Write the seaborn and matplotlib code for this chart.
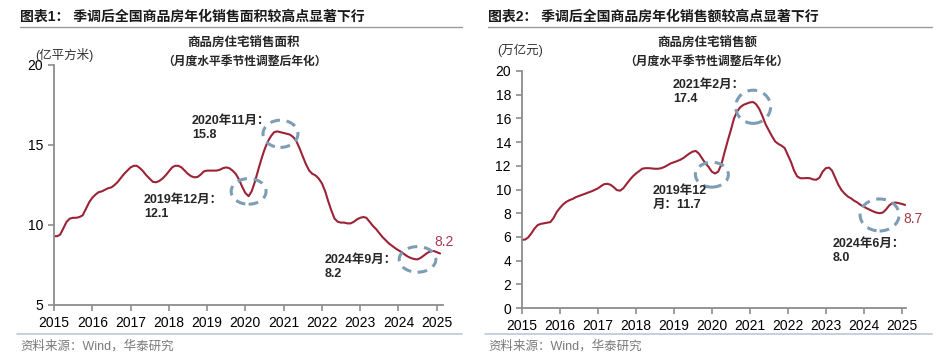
import numpy as np
import pandas as pd
import matplotlib
matplotlib.use("Agg")
import matplotlib.pyplot as plt
import matplotlib.dates as mdates
from matplotlib.patches import Ellipse
import seaborn as sns

# monthly values, seasonally adjusted & annualised, 2015-01 .. 2025-02
start = "2015-01-01"
area = [
    9.3, 9.3, 9.4, 9.8, 10.2, 10.4, 10.45, 10.45, 10.5, 10.6, 11.0, 11.4,
    11.7, 11.9, 12.05, 12.1, 12.2, 12.3, 12.35, 12.5, 12.7, 12.95, 13.2, 13.4,
    13.6, 13.7, 13.7, 13.55, 13.35, 13.1, 12.9, 12.7, 12.67, 12.75, 12.9, 13.1,
    13.35, 13.6, 13.7, 13.7, 13.6, 13.4, 13.2, 13.05, 12.98, 13.0, 13.15, 13.35,
    13.4, 13.4, 13.4, 13.4, 13.45, 13.55, 13.6, 13.55, 13.4, 13.2, 12.85, 12.4,
    12.0, 11.8, 12.1, 12.7, 13.4, 14.1, 14.7, 15.2, 15.55, 15.8, 15.85, 15.8,
    15.75, 15.7, 15.65, 15.5, 15.25, 14.8, 14.3, 13.8, 13.4, 13.2, 13.1, 12.9,
    12.6, 12.1, 11.5, 10.9, 10.4, 10.2, 10.15, 10.15, 10.1, 10.1, 10.2, 10.35,
    10.45, 10.5, 10.45, 10.2, 9.95, 9.75, 9.5, 9.25, 9.05, 8.85, 8.7, 8.55,
    8.42, 8.3, 8.15, 8.02, 7.93, 7.87, 7.85, 7.95, 8.1, 8.25, 8.35, 8.38,
    8.3, 8.22,
]
sales = [
    5.75, 5.78, 5.95, 6.3, 6.7, 7.0, 7.1, 7.15, 7.2, 7.25, 7.6, 8.1,
    8.45, 8.75, 8.95, 9.1, 9.2, 9.35, 9.45, 9.55, 9.65, 9.75, 9.85, 9.97,
    10.1, 10.3, 10.45, 10.48, 10.4, 10.2, 9.95, 9.9, 10.1, 10.45, 10.8, 11.1,
    11.35, 11.55, 11.75, 11.8, 11.8, 11.78, 11.75, 11.75, 11.8, 11.9, 12.05, 12.2,
    12.3, 12.4, 12.5, 12.65, 12.85, 13.05, 13.2, 13.25, 13.0, 12.6, 12.2, 11.9,
    11.5, 11.35, 11.5, 12.1, 13.1, 14.1, 15.0, 16.0, 16.6, 16.95, 17.15, 17.25,
    17.35, 17.38, 17.2, 16.8, 16.2, 15.5, 15.0, 14.5, 14.05, 13.85, 13.7, 13.5,
    12.9, 12.3, 11.6, 11.1, 10.95, 10.95, 10.97, 10.95, 10.85, 10.82, 11.0, 11.5,
    11.8, 11.85, 11.6, 11.0, 10.4, 9.95, 9.65, 9.4, 9.25, 9.05, 8.9, 8.7,
    8.55, 8.4, 8.28, 8.15, 8.05, 8.0, 8.05, 8.3, 8.65, 8.85, 8.9, 8.85,
    8.78, 8.7,
]
years = [str(y) for y in range(2015, 2026)]

# circled months: (month, width in days, height in units, vertical nudge)
circles_area = [("2020-02-01", 333, 1.6, 0.3), ("2020-12-01", 333, 1.7, -0.1),
                ("2024-07-01", 350, 1.6, 0.0)]
circles_sales = [("2020-01-01", 317, 2.1, -0.25), ("2021-02-01", 336, 2.8, -0.4),
                 ("2024-06-01", 375, 2.7, -0.15)]

sns.set_style("ticks")
plt.rcParams['font.family'] = ['Liberation Sans', 'Noto Sans CJK SC']
CJK = ['Liberation Sans', 'Noto Sans CJK SC']

W, H = 947, 361
LINE = '#9B2335'
RING = '#7C9DB5'
SPINE = '#8c8c8c'

fig = plt.figure(figsize=(W / 100, H / 100), dpi=100)


def px(x, y):
    return x / W, 1 - y / H


def make_panel(rect, values, ylim, yticks, xend, circles):
    ax = fig.add_axes(rect)
    df = pd.DataFrame({"month": pd.date_range(start, periods=len(values), freq="MS"),
                       "value": values})
    sns.lineplot(data=df, x="month", y="value", ax=ax, color=LINE, lw=1.5)
    ax.set_xlim(pd.Timestamp(start), pd.Timestamp(xend))
    ax.set_ylim(*ylim)
    ax.set_yticks(yticks)
    ax.set_xticks([pd.Timestamp(y + "-01-01") for y in years])
    ax.set_xticklabels(years)
    ax.set_xlabel("")
    ax.set_ylabel("")
    for s in ["top", "right"]:
        ax.spines[s].set_visible(False)
    for s in ["left", "bottom"]:
        ax.spines[s].set_color(SPINE)
        ax.spines[s].set_linewidth(1.3)
    ax.tick_params(axis="both", colors=SPINE, labelcolor="black", labelsize=10,
                   length=4, width=1.2, pad=4)
    s = df.set_index("month")["value"]
    for d, w, h, dy in circles:
        t = pd.Timestamp(d)
        e = Ellipse((mdates.date2num(t), s.loc[t] + dy), width=w, height=h, fill=False,
                    ec=RING, lw=2.2, ls=(0, (3.2, 2.2)), zorder=3, clip_on=False)
        ax.add_patch(e)
    return ax, df


ax1, d1 = make_panel([54 / W, 1 - 305 / H, 389 / W, 240 / H], area, (5, 20),
                     [5, 10, 15, 20], "2025-03-01", circles_area)
ax2, d2 = make_panel([522 / W, 1 - 308 / H, 384 / W, 237 / H], sales, (0, 20),
                     list(range(0, 21, 2)), "2025-02-10", circles_sales)

# headers
for x0, x1, title in [(20, 462, "图表1： 季调后全国商品房年化销售面积较高点显著下行"),
                      (488, 932, "图表2： 季调后全国商品房年化销售额较高点显著下行")]:
    fig.text(*px(x0, 17), title, fontsize=10, fontweight="bold", color="#1a1a1a",
             va="center", ha="left", family=CJK)
    fig.add_artist(plt.Line2D([x0 / W, x1 / W], [1 - 27 / H] * 2, color="#9a9a9a", lw=1))
    fig.add_artist(plt.Line2D([(x0 - 3) / W, x1 / W], [1 - 334 / H] * 2, color="#b9c9d9", lw=1.2))
    fig.text(*px(x0, 346), "资料来源：Wind，华泰研究", fontsize=9, color="#7a7a7a",
             va="center", ha="left", family=CJK)

# chart subtitles and units
fig.text(*px(244, 43), "商品房住宅销售面积", fontsize=9, fontweight="bold",
         ha="center", va="center", family=CJK)
fig.text(*px(244, 62), "（月度水平季节性调整后年化）", fontsize=8.5, fontweight="bold",
         ha="center", va="center", family=CJK)
fig.text(*px(707, 43), "商品房住宅销售额", fontsize=9, fontweight="bold",
         ha="center", va="center", family=CJK)
fig.text(*px(706, 62), "（月度水平季节性调整后年化）", fontsize=8.5, fontweight="bold",
         ha="center", va="center", family=CJK)
fig.text(*px(35, 55), "(亿平方米)", fontsize=9, ha="left", va="center", color="#333333", family=CJK)
fig.text(*px(497, 50), "(万亿元)", fontsize=9, ha="left", va="center", color="#333333", family=CJK)

# callouts
notes = [
    (192, 115, "2020年11月：\n15.8"),
    (144, 194, "2019年12月：\n12.1"),
    (325, 254, "2024年9月：\n8.2"),
    (673, 79, "2021年2月：\n17.4"),
    (653, 185, "2019年12\n月：11.7"),
    (833, 238, "2024年6月：\n8.0"),
]
for x, y, t in notes:
    fig.text(*px(x, y), t, fontsize=9, fontweight="bold", ha="left", va="top",
             linespacing=1.2, family=CJK)

# last-value labels
fig.text(*px(434, 242), f"{area[-1]:.1f}", fontsize=10, color="#A83A4A", ha="left", va="center")
fig.text(*px(903, 219), f"{sales[-1]:.1f}", fontsize=10, color="#A83A4A", ha="left", va="center")

fig.savefig("out.png", dpi=100)
